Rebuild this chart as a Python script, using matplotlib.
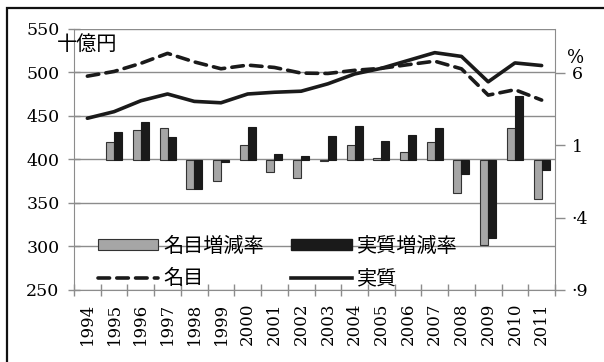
import matplotlib
matplotlib.use("Agg")
import matplotlib.pyplot as plt
from matplotlib.patches import Patch, Rectangle
from matplotlib.lines import Line2D
import numpy as np

years = [str(y) for y in range(1994, 2012)]
nominal = [495.8, 501.2, 510.5, 522.0, 512.2, 504.3, 508.5, 505.8, 499.3, 498.9,
           502.5, 504.8, 509.0, 513.0, 504.2, 474.0, 480.2, 468.3]
real = [447.4, 455.0, 467.5, 475.3, 466.8, 465.2, 475.3, 477.3, 478.5, 487.0,
        498.3, 504.8, 513.8, 522.8, 518.5, 489.3, 511.0, 508.0]
nominal_rate = [np.nan, 1.2, 2.05, 2.2, -2.0, -1.45, 1.0, -0.85, -1.25, -0.1,
                1.0, 0.07, 0.5, 1.2, -2.3, -5.9, 2.2, -2.75]
real_rate = [np.nan, 1.9, 2.6, 1.55, -2.0, -0.15, 2.25, 0.35, 0.25, 1.6,
             2.3, 1.3, 1.7, 2.2, -1.0, -5.4, 4.35, -0.7]
left_ticks = [250, 300, 350, 400, 450, 500, 550]
right_ticks = [-9, -4, 1, 6]
right_labels = ["·9", "·4", "1", "6"]

SERIF = "DejaVu Serif"
CJK = ["Noto Sans CJK JP", "DejaVu Sans"]
GRID = "#8c8c8c"

fig = plt.figure(figsize=(6.04, 3.62), dpi=100)
L, R, B, T = 74/604, 555/604, 1-290/362, 1-29/362
ax = fig.add_axes([L, B, R-L, T-B])
ax2 = ax.twinx()
ax3 = ax.twinx()
ax.set_zorder(1); ax2.set_zorder(2); ax3.set_zorder(3)
for a in (ax2, ax3):
    a.patch.set_visible(False)

x = np.arange(len(years))
ax.set_xlim(-0.5, len(years)-0.5)
ax.set_ylim(250, 550)
ax.set_yticks(left_ticks)
ax.set_yticklabels([str(v) for v in left_ticks], fontfamily=SERIF, fontsize=12.5)
ax.grid(axis="y", color=GRID, lw=1.0)
ax.tick_params(axis="y", direction="inout", length=9, width=1, color=GRID, pad=6)
ax.set_xticks(x)
ax.set_xticklabels(years, rotation=90, fontfamily=SERIF, fontsize=12)
ax.set_xticks(np.arange(-0.5, len(years)), minor=True)
ax.tick_params(axis="x", which="major", length=0, pad=9)
ax.tick_params(axis="x", which="minor", direction="inout", length=8, width=1, color=GRID)
for s in ("top",):
    ax.spines[s].set_visible(False)
for s in ("left", "right", "bottom"):
    ax.spines[s].set_color(GRID)

# bars on right axis
w = 0.3
ax2.bar(x - w/2, nominal_rate, width=w, color="#a6a6a6", edgecolor="#333333", lw=0.8)
ax2.bar(x + w/2, real_rate, width=w, color="#1a1a1a", edgecolor="#1a1a1a", lw=0.8)
ax2.set_ylim(-9, 9)
ax2.set_yticks(right_ticks)
ax2.set_yticklabels(right_labels, fontfamily=SERIF, fontsize=12.5)
ax2.tick_params(axis="y", direction="out", length=7, width=1, color=GRID, pad=5)
for s in ax2.spines.values():
    s.set_visible(False)

# lines on top
ax3.plot(x, nominal, color="#1a1a1a", lw=2.6, ls=(0, (3.2, 2.0)), dash_capstyle="round")
ax3.plot(x, real, color="#1a1a1a", lw=2.6, solid_capstyle="round")
ax3.set_ylim(250, 550)
ax3.set_yticks([])
for s in ax3.spines.values():
    s.set_visible(False)

handles = [Patch(facecolor="#a6a6a6", edgecolor="#333333", lw=0.8),
           Line2D([], [], color="#1a1a1a", lw=2.6, ls=(0, (3.2, 2.0)), dash_capstyle="round"),
           Patch(facecolor="#1a1a1a", edgecolor="#1a1a1a"),
           Line2D([], [], color="#1a1a1a", lw=2.6)]
labels = ["名目増減率", "名目", "実質増減率", "実質"]
leg = ax3.legend(handles, labels, ncol=2, frameon=False,
                 loc="upper left", bbox_to_anchor=(98/604, 1-236/362),
                 bbox_transform=fig.transFigure, borderpad=0, borderaxespad=0,
                 handlelength=3.0, handleheight=0.45, handletextpad=0.25,
                 columnspacing=1.35, labelspacing=0.55,
                 prop={"family": CJK, "size": 14.5})

fig.text(57/604, 1-44/362, "十億円", fontfamily=CJK, fontsize=14.5,
         ha="left", va="center")
fig.text(576/604, 1-58/362, "%", fontfamily=SERIF, fontsize=13,
         ha="center", va="center")

fig.add_artist(Rectangle((7/604, -0.1), 1.2, 1.1 - 8/362 + 0.0, transform=fig.transFigure,
                         fill=False, edgecolor="#111111", lw=1.6))

fig.savefig("out.png", dpi=100)
